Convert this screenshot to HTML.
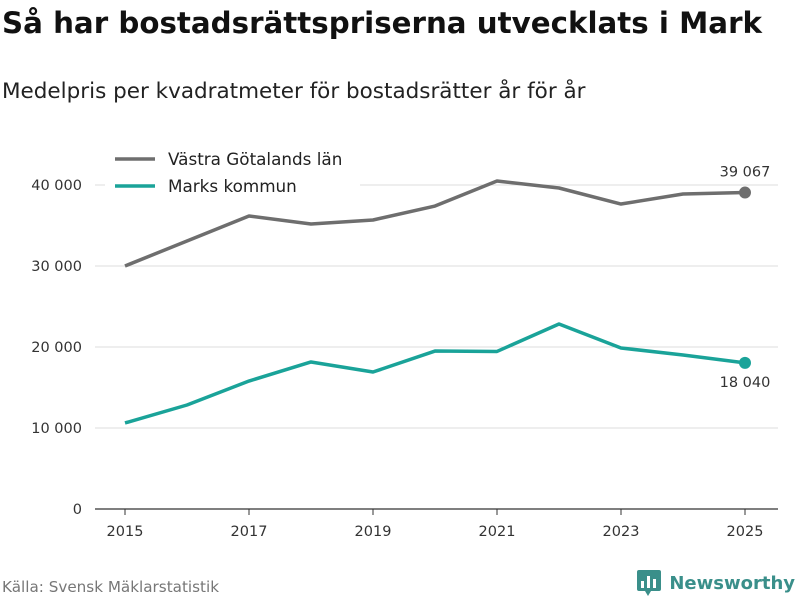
<!DOCTYPE html>
<html><head><meta charset="utf-8"><style>
body{margin:0;width:800px;height:600px;background:#fff;font-family:"DejaVu Sans","Liberation Sans",sans-serif;overflow:hidden;position:relative}
#title{position:absolute;left:2px;top:6px;font-size:29.3px;font-weight:bold;color:#111;white-space:nowrap}
#sub{position:absolute;left:2px;top:79px;font-size:21.5px;color:#222;white-space:nowrap}
#src{position:absolute;left:2px;top:578px;font-size:15.2px;color:#777}
#logo{position:absolute;right:5px;top:570px;font-size:18px;font-weight:bold;color:#3a8f8a;display:flex;align-items:center;gap:8px;white-space:nowrap}
svg text{font-family:"DejaVu Sans","Liberation Sans",sans-serif}
</style></head><body>
<div id="title">Så har bostadsrättspriserna utvecklats i Mark</div>
<div id="sub">Medelpris per kvadratmeter för bostadsrätter år för år</div>
<svg id="chart" width="800" height="600" style="position:absolute;left:0;top:0"></svg>
<div id="src">Källa: Svensk Mäklarstatistik</div>
<div id="logo"><svg width="24" height="26"><rect x="0" y="0" width="24" height="21" rx="2" fill="#3a8f8a"/><polygon points="8,21 14,21 11,26" fill="#3a8f8a"/><rect x="4" y="11" width="3" height="7" fill="#fff"/><rect x="10" y="6" width="3" height="12" fill="#fff"/><rect x="16" y="9" width="3" height="9" fill="#fff"/></svg><span>Newsworthy</span></div>
<script>
const years=[2015,2016,2017,2018,2019,2020,2021,2022,2023,2024,2025];
const vgValues=[30000,33090,36170,35190,35680,37400,40490,39630,37650,38890,39067];
const markValues=[10620,12840,15800,18150,16910,19500,19450,22840,19880,19010,18040];
const yTicks=[0,10000,20000,30000,40000];
const xTicks=[2015,2017,2019,2021,2023,2025];
const ns="http://www.w3.org/2000/svg";
const svg=document.getElementById('chart');
const x=v=>125+(v-2015)*62;
const y=v=>509-v*81/10000;
const fmt=v=>v.toLocaleString('en-US').replace(/,/g,' ');
function el(t,a){const e=document.createElementNS(ns,t);for(const k in a)e.setAttribute(k,a[k]);svg.appendChild(e);return e;}
yTicks.forEach(t=>{
 const l=el('line',{x1:95,x2:778,y1:y(t),y2:y(t),stroke:t===0?'#333':'#ddd','stroke-width':t===0?1.2:1});
 
 
 const tx=el('text',{x:82,y:y(t)+5,'text-anchor':'end','font-size':14.5,fill:'#333'});tx.textContent=fmt(t);
 
 
});
xTicks.forEach(t=>{
 const l=el('line',{x1:x(t),x2:x(t),y1:509,y2:515,stroke:'#333'});
 
 
 const tx=el('text',{x:x(t),y:536,'text-anchor':'middle','font-size':14.5,fill:'#333'});tx.textContent=t;
 
 
});
function series(vals,color,name){
 const p=el('polyline',{points:vals.map((v,i)=>x(years[i])+','+y(v)).join(' '),fill:'none',stroke:color,'stroke-width':3.5,'stroke-linejoin':'round'});
 
 
 const n=vals.length-1;
 const c=el('circle',{cx:x(years[n]),cy:y(vals[n]),r:6,fill:color});
 
 
}
series(vgValues,'#6e6e6e','vastra-gotaland');
series(markValues,'#1aa399','marks-kommun');
let t1=el('text',{x:x(2025),y:y(vgValues[10])-16,'text-anchor':'middle','font-size':14.5,fill:'#333'});t1.textContent=fmt(vgValues[10]);


let t2=el('text',{x:x(2025),y:y(markValues[10])+24,'text-anchor':'middle','font-size':14.5,fill:'#333'});t2.textContent=fmt(markValues[10]);


const bg=el('rect',{x:105,y:143,width:255,height:60,fill:'#fff'});


[['Västra Götalands län','#6e6e6e',159],['Marks kommun','#1aa399',186]].forEach(([n,c,yy])=>{
 const l=el('line',{x1:115,x2:155,y1:yy,y2:yy,stroke:c,'stroke-width':3.5});
 
 
 const t=el('text',{x:168,y:yy+6,'font-size':16.8,fill:'#222'});t.textContent=n;
 
 
});
</script>
</body></html>
